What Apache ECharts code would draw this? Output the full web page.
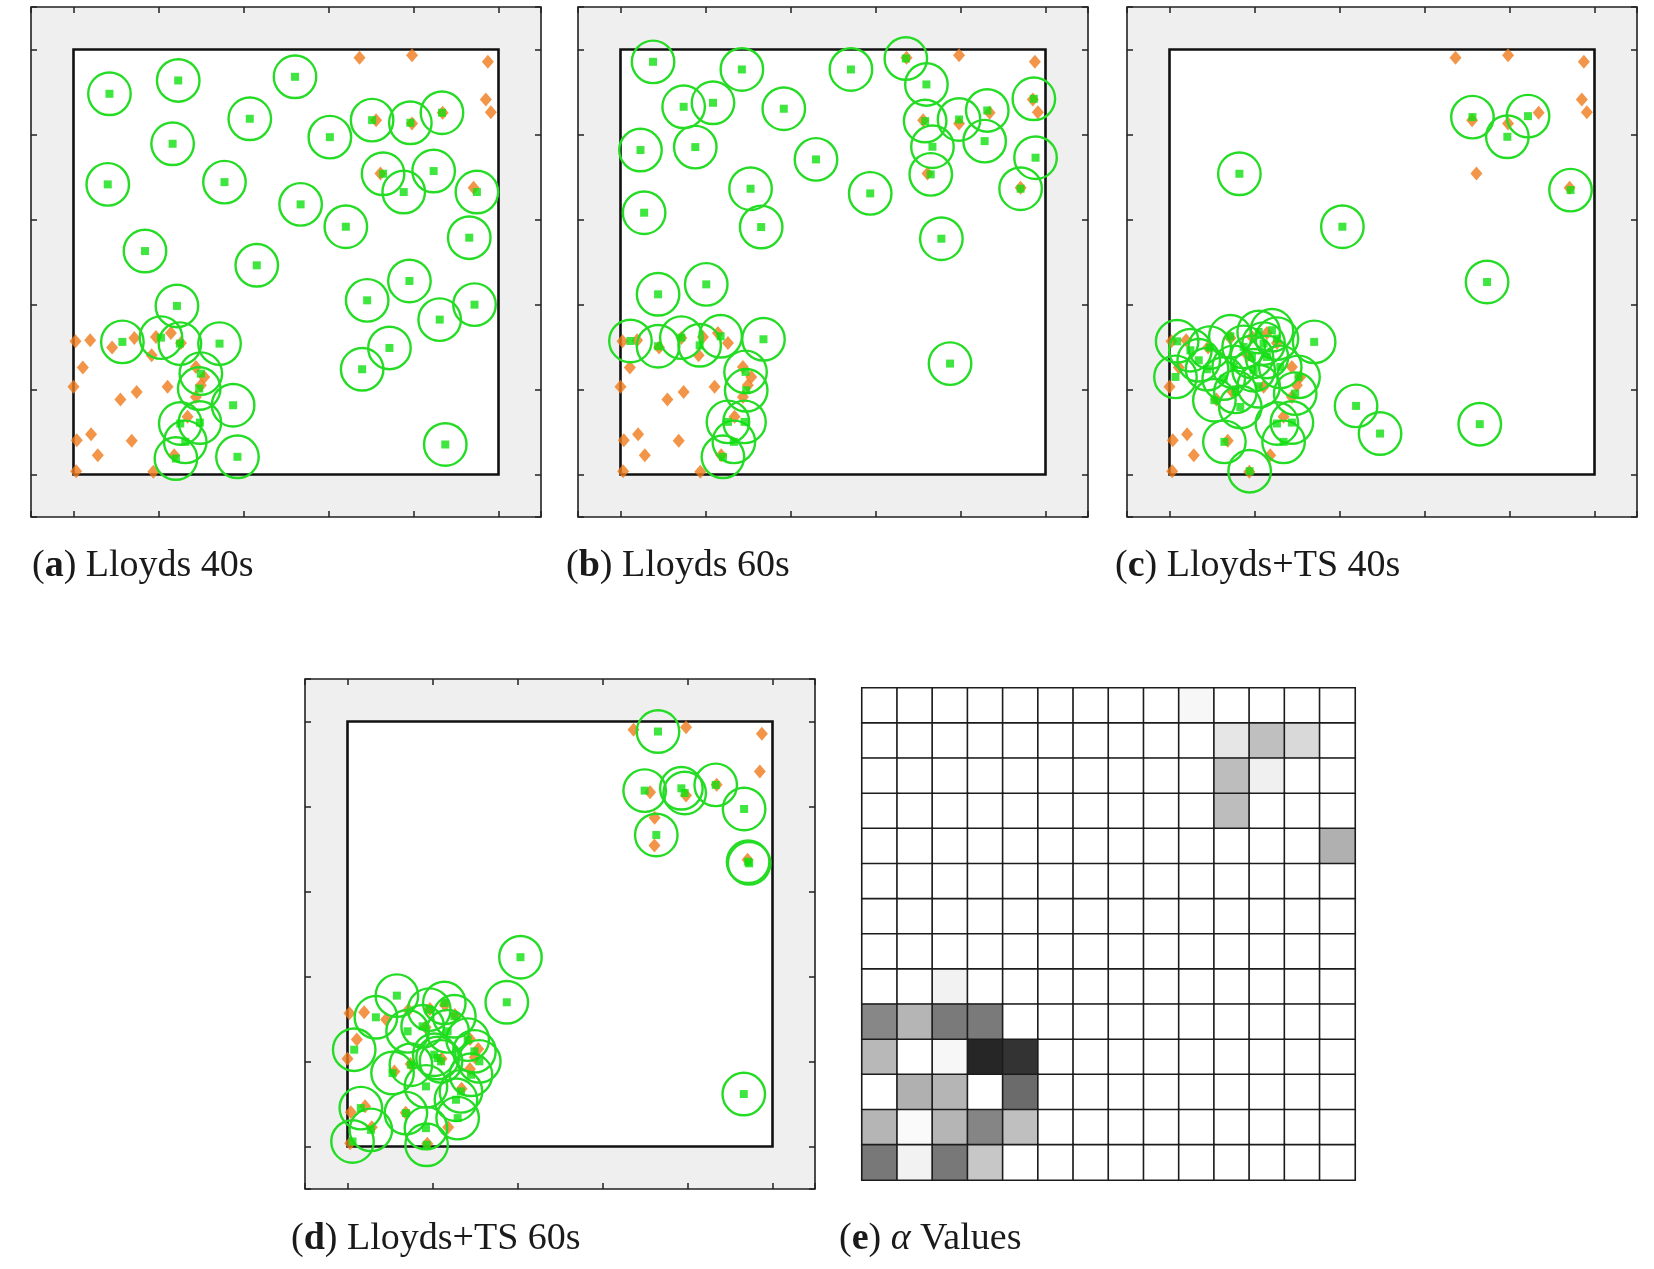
<!DOCTYPE html>
<html>
<head>
<meta charset="utf-8">
<script src="https://cdn.jsdelivr.net/npm/echarts@6/dist/echarts.min.js"></script>
<style>
  html, body { margin: 0; padding: 0; background: #ffffff; }
  #chart { width: 1654px; height: 1269px; }
</style>
</head>
<body>
<div id="chart"></div>
<script>
// Static targets (orange diamonds), arena units 0..5
const targets = [
  [3.365,4.902],[3.983,4.933],[4.875,4.855],[4.851,4.412],[4.910,4.263],[3.560,4.169],[3.983,4.130],
  [4.343,4.256],[3.611,3.542],[4.707,3.374],
  [0.023,1.567],[0.196,1.579],[0.454,1.493],[0.716,1.607],[0.970,1.618],[1.146,1.665],[0.919,1.403],
  [0.110,1.258],[0.000,1.031],[0.552,0.882],[0.743,0.972],[1.107,1.031],[1.440,1.266],[1.538,1.148],
  [1.498,1.050],[1.440,0.913],[1.342,0.678],[0.039,0.404],[0.207,0.474],[0.685,0.396],[0.286,0.227],
  [1.185,0.227],[0.031,0.039],[0.939,0.031],[1.264,1.548]
];
const targetsLate = [
  [3.365,4.902],[3.983,4.933],[4.875,4.855],[4.851,4.412],[3.613,3.869],[3.560,4.169],[3.983,4.130],
  [4.343,4.256],[3.611,3.542],[4.707,3.374],
  [0.023,1.567],[0.196,1.579],[0.454,1.493],[0.716,1.607],[0.970,1.618],[1.146,1.665],[0.919,1.403],
  [0.110,1.258],[0.000,1.031],[0.552,0.882],[0.743,0.972],[1.107,1.031],[1.440,1.266],[1.538,1.148],
  [1.498,1.050],[1.440,0.913],[1.342,0.678],[0.039,0.404],[0.207,0.474],[0.685,0.396],[0.286,0.227],
  [1.185,0.227],[0.031,0.039],[0.939,0.031],[1.264,1.548]
];

// Agent positions (green squares) for each run
const agentsA = [
  [0.423,4.479],[1.232,4.636],[2.606,4.679],[2.074,4.185],[1.166,3.891],[3.016,3.969],[3.513,4.169],
  [3.963,4.138],[4.335,4.256],[0.403,3.413],[1.776,3.440],[2.672,3.178],[3.642,3.538],[4.237,3.570],
  [3.885,3.323],[4.746,3.323],[3.204,2.915],[4.656,2.786],[0.841,2.629],[2.156,2.461],[3.952,2.277],
  [1.217,1.983],[3.455,2.049],[4.718,1.998],[4.308,1.822],[3.717,1.489],[3.396,1.238],[0.575,1.560],
  [1.029,1.610],[1.252,1.540],[1.718,1.540],[1.498,1.187],[1.479,1.011],[1.878,0.815],[1.256,0.600],
  [1.487,0.611],[1.315,0.384],[1.205,0.188],[1.929,0.208],[4.374,0.353]
];
const agentsB = [
  [0.383,4.855],[1.428,4.765],[2.711,4.765],[3.357,4.894],[3.599,4.589],[0.743,4.326],[1.088,4.373],
  [1.921,4.303],[4.863,4.420],[4.315,4.283],[3.983,4.177],[3.584,4.158],[0.235,3.817],[0.880,3.852],
  [3.670,3.856],[4.284,3.922],[2.300,3.707],[4.883,3.727],[3.650,3.531],[1.530,3.362],[2.938,3.307],
  [4.707,3.362],[0.278,3.080],[1.655,2.911],[3.775,2.774],[1.009,2.237],[0.442,2.120],[0.117,1.571],
  [0.442,1.509],[0.716,1.610],[0.931,1.520],[1.178,1.626],[1.682,1.591],[1.471,1.207],[1.479,0.991],
  [1.264,0.619],[1.459,0.619],[1.334,0.384],[1.205,0.208],[3.877,1.305]
];
const agentsC = [
  [3.564,4.205],[4.218,4.216],[3.975,3.973],[0.822,3.538],[4.718,3.346],[2.034,2.915],[3.736,2.265],
  [2.195,0.807],[2.477,0.482],[3.650,0.592],[1.702,1.560],[0.943,0.039],[0.646,0.384],[1.342,0.384],
  [0.090,1.567],[0.070,1.148],[0.473,1.493],[0.344,1.344],[0.716,1.626],[1.049,1.677],[1.205,1.697],
  [1.264,1.599],[1.107,1.540],[0.970,1.383],[0.755,1.266],[0.638,1.129],[0.528,0.874],[0.775,0.972],
  [1.049,1.038],[1.518,1.148],[1.479,0.952],[1.264,0.600],[1.440,0.611],[0.872,1.501],[1.146,1.383],
  [0.442,1.239],[0.990,1.227],[1.303,1.266],[0.246,1.462],[0.833,0.795]
];
const agentsD = [
  [3.653,4.882],[3.496,4.187],[3.928,4.214],[3.967,4.159],[4.332,4.254],[4.666,3.971],[3.633,3.665],
  [4.713,3.350],[4.725,3.331],[2.035,2.227],[1.874,1.697],[4.662,0.617],
  [0.581,1.775],[0.334,1.520],[0.079,1.139],[0.707,1.355],[0.962,1.610],[1.139,1.689],[1.257,1.532],
  [0.884,1.414],[1.060,1.041],[1.100,1.002],[1.021,1.080],[0.530,0.864],[0.746,0.962],[0.923,0.707],
  [1.493,1.119],[1.551,1.002],[1.453,0.844],[1.335,0.648],[1.276,0.550],[1.296,0.334],[0.157,0.452],
  [0.275,0.196],[0.059,0.059],[0.687,0.393],[0.923,0.216],[0.931,0.020],[1.414,1.257],[1.178,1.355]
];

// Alpha values on a 14 x 14 grid, rows listed top to bottom
const alphaRows = [
  [0,0,0,0,0,0,0,0,0,0.03,0,0,0,0],
  [0,0,0,0,0,0,0,0,0,0,0.10,0.25,0.15,0],
  [0,0,0,0,0,0,0,0,0,0,0.26,0.06,0,0],
  [0,0,0,0,0,0,0,0,0,0,0.26,0,0,0],
  [0,0,0,0,0,0,0,0,0,0,0,0,0,0.31],
  [0,0,0,0,0,0,0,0,0,0,0,0,0,0],
  [0,0,0,0,0,0,0,0,0,0,0,0,0,0],
  [0,0,0,0,0,0,0,0,0,0,0,0,0,0],
  [0,0,0.05,0,0,0,0,0,0,0,0,0,0,0],
  [0.47,0.29,0.52,0.52,0,0,0,0,0,0,0,0,0,0],
  [0.28,0,0.03,0.85,0.80,0,0,0,0,0,0,0,0,0],
  [0,0.31,0.29,0,0.58,0,0,0,0,0,0,0,0,0],
  [0.29,0.02,0.29,0.48,0.25,0,0,0,0,0,0,0,0,0],
  [0.53,0.05,0.53,0.22,0,0,0,0,0,0,0,0,0,0]
];

const panelLetters = ['a', 'b', 'c', 'd', 'e'];
const panelTitles = ['Lloyds 40s', 'Lloyds 60s', 'Lloyds+TS 40s', 'Lloyds+TS 60s', 'Values'];

const SENSOR_RADIUS = 0.25;        // sensing range of an agent
const ARENA = [[0, 0, 5, 5]];      // workspace bounds [x0, y0, x1, y1]

const panels = [
  { agents: agentsA, targets: targets,     grid: { left: 31,   top: 7,   width: 510, height: 510 } },
  { agents: agentsB, targets: targets,     grid: { left: 578,  top: 7,   width: 510, height: 510 } },
  { agents: agentsC, targets: targets,     grid: { left: 1127, top: 7,   width: 510, height: 510 } },
  { agents: agentsD, targets: targetsLate, grid: { left: 305,  top: 679, width: 510, height: 510 } }
];

const FONT = "'Liberation Serif', 'DejaVu Serif', serif";
const FONT_SIZE = 38;
const captionPos = [[32, 547], [566, 547], [1115, 547], [291, 1220], [839, 1220]];

const grids = [], xAxes = [], yAxes = [], series = [];

const tickStyle = { inside: true, length: 6, lineStyle: { color: '#222', width: 1.5 } };
function valueAxis(gi, pos) {
  return {
    gridIndex: gi, type: 'value', min: -0.5, max: 5.5, splitNumber: 6, position: pos,
    axisLine: { show: false, onZero: false }, axisTick: tickStyle, axisLabel: { show: false },
    splitLine: { show: false }
  };
}

function renderArena(params, api) {
  const p0 = api.coord([api.value(0), api.value(3)]);
  const p1 = api.coord([api.value(2), api.value(1)]);
  return {
    type: 'rect',
    shape: { x: p0[0], y: p0[1], width: p1[0] - p0[0], height: p1[1] - p0[1] },
    style: { fill: '#ffffff', stroke: '#111111', lineWidth: 2.6 }
  };
}
function renderSensor(params, api) {
  const c = api.coord([api.value(0), api.value(1)]);
  const r = api.size([SENSOR_RADIUS, SENSOR_RADIUS])[0];
  return {
    type: 'circle',
    shape: { cx: c[0], cy: c[1], r: r },
    style: { fill: 'none', stroke: '#25dc25', lineWidth: 2.4 }
  };
}

panels.forEach((p, i) => {
  grids.push(Object.assign({
    show: true, backgroundColor: '#efefef', borderColor: '#222', borderWidth: 1.6,
    containLabel: false
  }, p.grid));
  xAxes.push(valueAxis(i, 'bottom'), valueAxis(i, 'top'));
  yAxes.push(valueAxis(i, 'left'), valueAxis(i, 'right'));
  const ax = { xAxisIndex: 2 * i, yAxisIndex: 2 * i };
  series.push(Object.assign({
    type: 'custom', renderItem: renderArena, data: ARENA, z: 1, silent: true,
    clip: false
  }, ax));
  series.push(Object.assign({
    type: 'scatter', data: p.targets, symbol: 'diamond', symbolSize: [12, 14],
    itemStyle: { color: '#f07a1a' }, z: 2, silent: true
  }, ax));
  series.push(Object.assign({
    type: 'custom', renderItem: renderSensor, data: p.agents, z: 3, silent: true,
    clip: false
  }, ax));
  series.push(Object.assign({
    type: 'scatter', data: p.agents, symbol: 'rect', symbolSize: 8,
    itemStyle: { color: '#10e010' }, z: 4, silent: true
  }, ax));
});

// Alpha grid
const nCells = alphaRows.length;
const cellIdx = alphaRows.map((_, k) => String(k));
const alphaData = [];
alphaRows.forEach((row, r) => row.forEach((v, c) => alphaData.push([c, nCells - 1 - r, v])));
grids.push({ left: 862, top: 688, width: 493, height: 492 });
xAxes.push({ gridIndex: 4, type: 'category', data: cellIdx, show: false });
yAxes.push({ gridIndex: 4, type: 'category', data: cellIdx, show: false });
series.push({
  type: 'heatmap', xAxisIndex: 8, yAxisIndex: 8, data: alphaData, silent: true,
  itemStyle: { borderColor: '#1c1c1c', borderWidth: 1.6 }
});

const titles = panelLetters.map((L, i) => ({
  left: captionPos[i][0], top: captionPos[i][1], padding: 0,
  text: i === 4 ? '({b|' + L + '}) {i|α} ' + panelTitles[i] : '({b|' + L + '}) ' + panelTitles[i],
  textStyle: {
    fontFamily: FONT, fontSize: FONT_SIZE, fontWeight: 'normal', color: '#1a1a1a',
    rich: {
      b: { fontFamily: FONT, fontSize: FONT_SIZE, fontWeight: 'bold', color: '#1a1a1a' },
      i: { fontFamily: FONT, fontSize: FONT_SIZE, fontStyle: 'italic', color: '#1a1a1a' }
    }
  }
}));

const chart = echarts.init(document.getElementById('chart'), null, { renderer: 'canvas' });
chart.setOption({
  animation: false,
  backgroundColor: '#ffffff',
  title: titles,
  grid: grids,
  xAxis: xAxes,
  yAxis: yAxes,
  visualMap: {
    show: false, type: 'continuous', min: 0, max: 1, seriesIndex: series.length - 1,
    inRange: { color: ['#ffffff', '#000000'] }
  },
  series: series
});
</script>
</body>
</html>
